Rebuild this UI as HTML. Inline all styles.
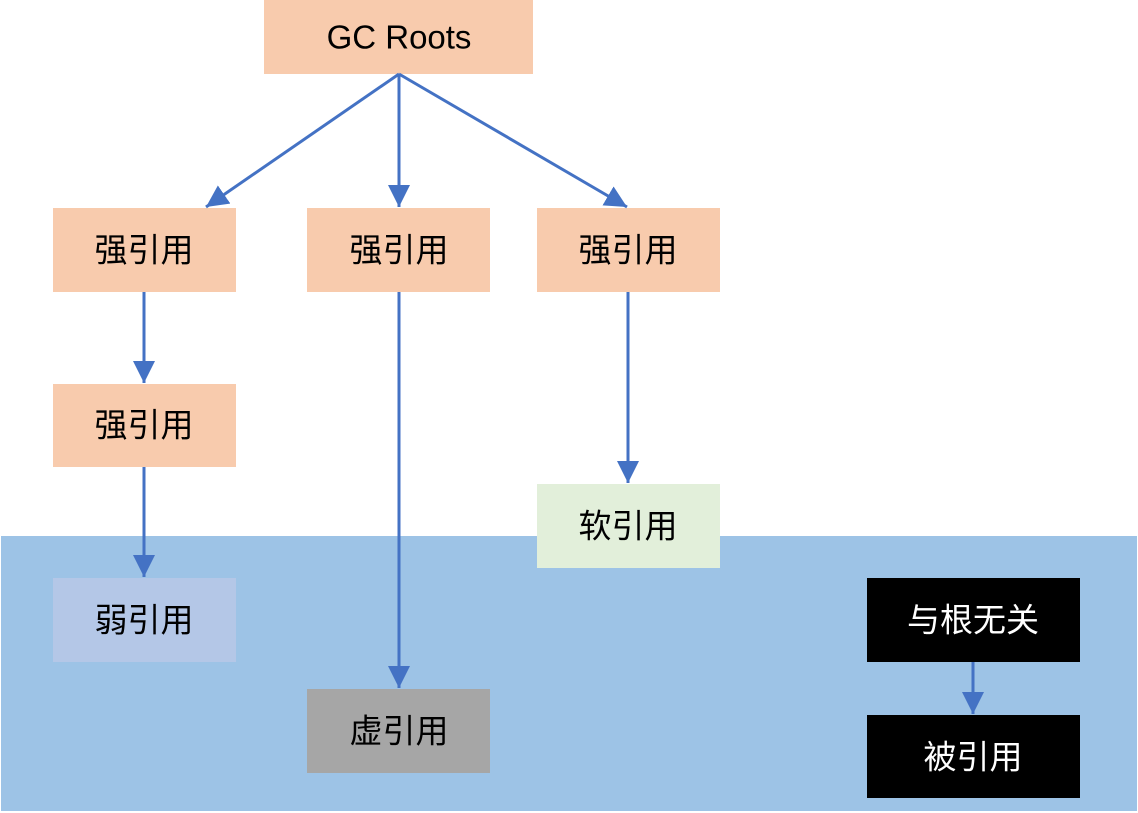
<!DOCTYPE html>
<html><head><meta charset="utf-8"><style>
html,body{margin:0;padding:0;background:#fff;}
svg{display:block;}
text{font-family:"Liberation Sans","Noto Sans CJK SC",sans-serif;font-size:33px;text-anchor:middle;dominant-baseline:central;}
</style></head><body>
<svg width="1138" height="813" xmlns="http://www.w3.org/2000/svg">
<defs><marker id="a" markerWidth="24" markerHeight="22" refX="22" refY="11" orient="auto" markerUnits="userSpaceOnUse"><path d="M0,0 L22,11 L0,22 z" fill="#4472C4"/></marker></defs>
<rect x="1" y="536" width="1136" height="275" fill="#9DC3E6"/>
<rect x="264" y="0" width="269" height="74" fill="#F8CBAD"/>
<text x="399" y="37">GC Roots</text>
<rect x="53" y="208" width="183" height="84" fill="#F8CBAD"/><text x="144" y="250">强引用</text>
<rect x="307" y="208" width="183" height="84" fill="#F8CBAD"/><text x="399" y="250">强引用</text>
<rect x="537" y="208" width="183" height="84" fill="#F8CBAD"/><text x="628" y="250">强引用</text>
<rect x="53" y="384" width="183" height="83" fill="#F8CBAD"/><text x="144" y="425">强引用</text>
<rect x="537" y="484" width="183" height="84" fill="#E2EFDA"/><text x="628" y="526">软引用</text>
<rect x="53" y="578" width="183" height="84" fill="#B4C7E7"/><text x="144" y="620">弱引用</text>
<rect x="307" y="689" width="183" height="84" fill="#A6A6A6"/><text x="399" y="731">虚引用</text>
<rect x="867" y="578" width="213" height="84" fill="#000"/><text x="973" y="620" fill="#fff">与根无关</text>
<rect x="867" y="715" width="213" height="83" fill="#000"/><text x="973" y="757" fill="#fff">被引用</text>
<g stroke="#4472C4" stroke-width="3" fill="none" marker-end="url(#a)">
<line x1="399" y1="74" x2="206" y2="207"/>
<line x1="399" y1="74" x2="399" y2="207"/>
<line x1="399" y1="74" x2="627" y2="207"/>
<line x1="144" y1="292" x2="144" y2="383"/>
<line x1="144" y1="467" x2="144" y2="577"/>
<line x1="399" y1="292" x2="399" y2="688"/>
<line x1="628" y1="292" x2="628" y2="483"/>
<line x1="973" y1="662" x2="973" y2="714"/>
</g>
</svg>
</body></html>
